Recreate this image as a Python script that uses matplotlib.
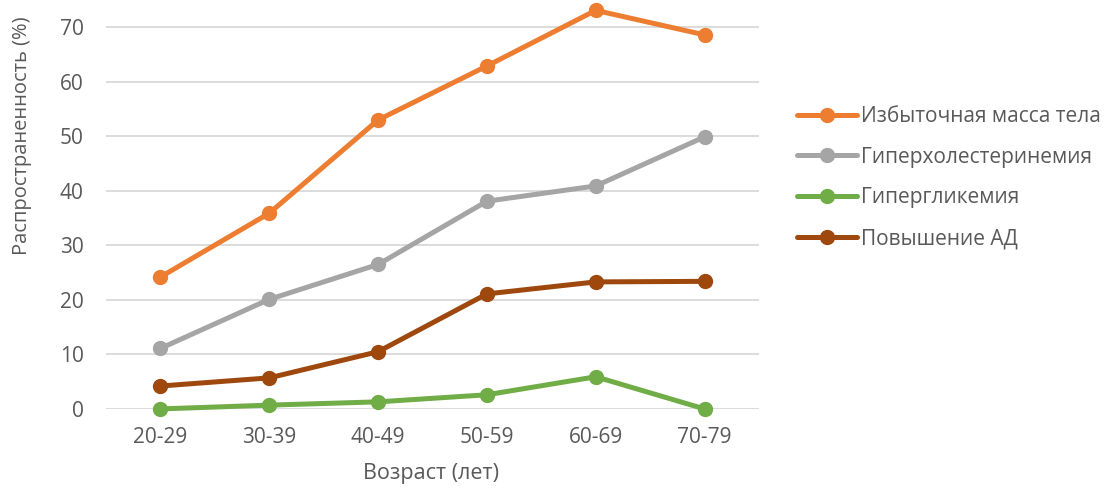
import matplotlib
matplotlib.use("Agg")
import matplotlib.pyplot as plt

age_groups = ["20-29", "30-39", "40-49", "50-59", "60-69", "70-79"]
series_names = ["Избыточная масса тела", "Гиперхолестеринемия", "Гипергликемия", "Повышение АД"]
excess_weight = [24.2, 35.9, 53.0, 62.9, 73.1, 68.6]
hypercholesterolemia = [11.1, 20.1, 26.5, 38.1, 40.9, 49.9]
hyperglycemia = [0.0, 0.7, 1.3, 2.6, 5.9, 0.0]
high_bp = [4.2, 5.7, 10.5, 21.1, 23.3, 23.4]
y_ticks = [0, 10, 20, 30, 40, 50, 60, 70]

colors = ["#ED7D31", "#A5A5A5", "#70AD47", "#9E480E"]
text_color = "#595959"

plt.rcParams["font.family"] = ["Open Sans", "DejaVu Sans"]

W, H = 1117, 488
fig = plt.figure(figsize=(W / 100, H / 100), dpi=100)
ax = fig.add_axes([0.0949, 0.162, 0.5846, 0.838])

x = list(range(len(age_groups)))
for name, vals, c in zip(series_names,
                         [excess_weight, hypercholesterolemia, hyperglycemia, high_bp],
                         colors):
    ax.plot(x, vals, color=c, lw=3.6, marker="o", markersize=10,
            solid_capstyle="round", label=name, clip_on=False, zorder=3)

ax.set_xlim(-0.5, len(age_groups) - 0.5)
ax.set_ylim(0, 75)
ax.set_yticks(y_ticks)
ax.set_xticks(x)
ax.set_xticklabels(age_groups)
ax.grid(axis="y", color="#D9D9D9", lw=1.3, zorder=0)
ax.set_axisbelow(True)
for s in ax.spines.values():
    s.set_visible(False)
ax.tick_params(axis="both", length=0, colors=text_color, labelsize=15)
ax.tick_params(axis="y", pad=16)
ax.tick_params(axis="x", pad=13)

# axis titles placed in figure pixels
ax.set_xlabel("Возраст (лет)", color=text_color, fontsize=15.5)
ax.set_ylabel("Распространенность (%)", color=text_color, fontsize=14.5)
ax.xaxis.set_label_coords(431 / W, 1 - 474 / H, transform=fig.transFigure)
ax.yaxis.set_label_coords(22 / W, 1 - 136 / H, transform=fig.transFigure)
ax.xaxis.label.set_va("center")
ax.yaxis.label.set_va("center")

leg = fig.legend(loc="center left", bbox_to_anchor=(797 / W, 1 - 177.5 / H), frameon=False,
                 fontsize=15, handlelength=2.9, handletextpad=0.15,
                 labelspacing=0.95, borderaxespad=0, borderpad=0)
for t in leg.get_texts():
    t.set_color(text_color)

fig.savefig("out.png", dpi=100)
